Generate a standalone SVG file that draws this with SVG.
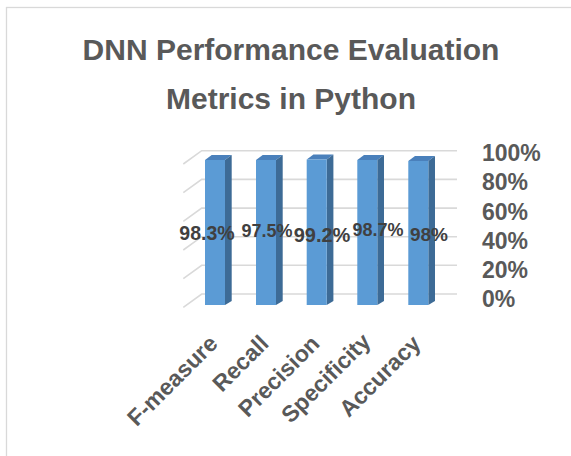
<svg xmlns="http://www.w3.org/2000/svg" width="571" height="456" viewBox="0 0 571 456">
<style>
.grid{stroke:#D9D9D9;stroke-width:1.6;fill:none}
.front{fill:#5B9BD5}
.side{fill:#3D6B96}
.top{fill:#4A80BB}
.title{font-family:"Liberation Sans",Arial,sans-serif;font-weight:bold;font-size:30px;fill:#595959;text-anchor:middle}
.ax{font-family:"Liberation Sans",Arial,sans-serif;font-weight:bold;font-size:23px;fill:#595959}
.cat{font-family:"Liberation Sans",Arial,sans-serif;font-weight:bold;font-size:23px;fill:#595959;text-anchor:end}
.val{font-family:"Liberation Sans",Arial,sans-serif;font-weight:bold;fill:#404040;text-anchor:middle}
</style>
<rect x="0" y="0" width="571" height="456" fill="#FFFFFF"/>
<rect x="6.5" y="7.5" width="600" height="500" fill="none" stroke="#D9D9D9" stroke-width="1.3"/>
<g id="title">
<text class="title" x="291" y="60">DNN Performance Evaluation</text>
<text class="title" x="291" y="109">Metrics in Python</text>
</g>
<g id="gridlines">
<path class="grid" d="M183.3,164 L201.7,150.7 H457"/>
<path class="grid" d="M183.3,192.7 L201.7,179.4 H457"/>
<path class="grid" d="M183.3,221.4 L201.7,208.1 H457"/>
<path class="grid" d="M183.3,250 L201.7,236.7 H457"/>
<path class="grid" d="M183.3,278.6 L201.7,265.3 H457"/>
<path class="grid" d="M183.3,307.3 L201.7,294 H457"/>
</g>
<g id="value-axis">
<text class="ax" x="482" y="161">100%</text>
<text class="ax" x="482" y="190">80%</text>
<text class="ax" x="482" y="220">60%</text>
<text class="ax" x="482" y="249">40%</text>
<text class="ax" x="482" y="278">20%</text>
<text class="ax" x="482" y="307">0%</text>
</g>
<g id="bar-fmeasure">
<polygon class="top" points="205,160 225,160 231.7,155 211.7,155"/>
<polygon class="side" points="225,160 231.7,155 231.7,301 225,305"/>
<rect class="front" x="205" y="160" width="20" height="145"/>
</g>
<g id="bar-recall">
<polygon class="top" points="256,160 276,160 282.7,155 262.7,155"/>
<polygon class="side" points="276,160 282.7,155 282.7,301 276,305"/>
<rect class="front" x="256" y="160" width="20" height="145"/>
</g>
<g id="bar-precision">
<polygon class="top" points="306.7,159.5 326.7,159.5 333.4,154.5 313.4,154.5"/>
<polygon class="side" points="326.7,159.5 333.4,154.5 333.4,301 326.7,305"/>
<rect class="front" x="306.7" y="159.5" width="20" height="145.5"/>
</g>
<g id="bar-specificity">
<polygon class="top" points="357.3,160 377.3,160 384,155 364,155"/>
<polygon class="side" points="377.3,160 384,155 384,301 377.3,305"/>
<rect class="front" x="357.3" y="160" width="20" height="145"/>
</g>
<g id="bar-accuracy">
<polygon class="top" points="408.3,161 428.3,161 435,156 415,156"/>
<polygon class="side" points="428.3,161 435,156 435,301 428.3,305"/>
<rect class="front" x="408.3" y="161" width="20" height="144"/>
</g>
<g id="data-labels">
<text class="val" x="207" y="240" font-size="19.5">98.3%</text>
<text class="val" x="267" y="236.5" font-size="18">97.5%</text>
<text class="val" x="322" y="242" font-size="20">99.2%</text>
<text class="val" x="378" y="236" font-size="18">98.7%</text>
<text class="val" x="429" y="241" font-size="19">98%</text>
</g>
<g id="category-axis">
<text class="cat" transform="translate(219,345) rotate(-45)">F-measure</text>
<text class="cat" transform="translate(270,345) rotate(-45)">Recall</text>
<text class="cat" transform="translate(321,345) rotate(-45)">Precision</text>
<text class="cat" transform="translate(372,343) rotate(-45)">Specificity</text>
<text class="cat" transform="translate(422,345) rotate(-45)">Accuracy</text>
</g>
</svg>
